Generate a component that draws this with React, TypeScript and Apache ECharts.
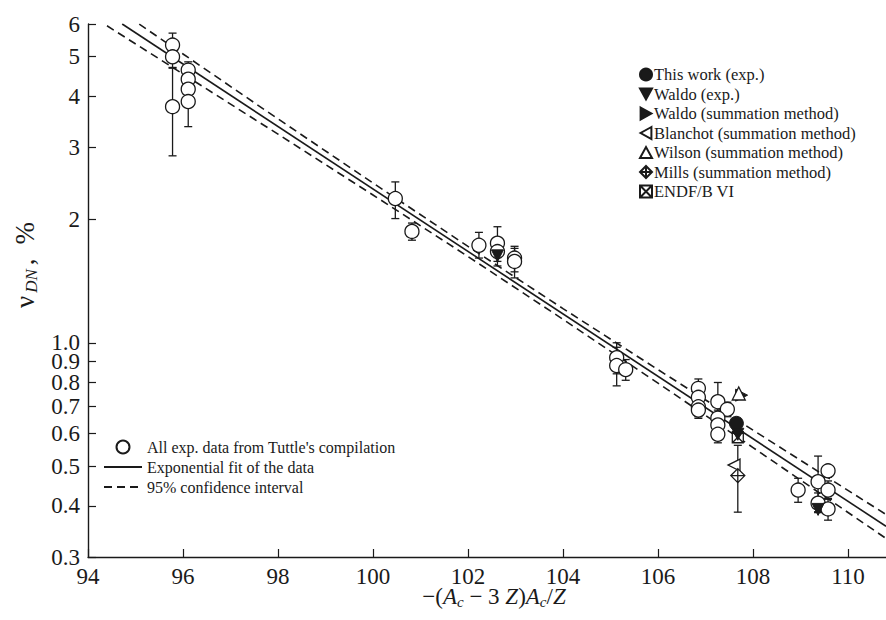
import { useEffect, useRef } from "react";
import * as echarts from "echarts";

const INK = "#1a1a1a";
const FONT = "'Liberation Serif', 'DejaVu Serif', serif";

const xTicks = [94, 96, 98, 100, 102, 104, 106, 108, 110];
const yTicks = [0.3, 0.4, 0.5, 0.6, 0.7, 0.8, 0.9, 1.0, 2, 3, 4, 5, 6];

// Tuttle's compilation: [x, value, errLow, errHigh]
const tuttle = [
  [95.78, 5.33, 4.96, 5.7],
  [95.78, 4.99, 4.7, 5.28],
  [95.78, 3.77, 2.86, 4.68],
  [96.11, 4.63, 4.41, 4.85],
  [96.11, 4.4, 4.2, 4.6],
  [96.11, 4.16, 3.95, 4.37],
  [96.11, 3.88, 3.37, 4.39],
  [100.47, 2.25, 2.01, 2.47],
  [100.82, 1.87, 1.78, 1.96],
  [102.23, 1.73, 1.61, 1.86],
  [102.62, 1.75, 1.58, 1.92],
  [102.62, 1.67, 1.54, 1.8],
  [102.98, 1.61, 1.49, 1.72],
  [102.98, 1.58, 1.44, 1.7],
  [105.13, 0.92, 0.84, 1.0],
  [105.13, 0.88, 0.785, 0.975],
  [105.32, 0.86, 0.81, 0.91],
  [106.85, 0.774, 0.74, 0.816],
  [106.85, 0.736, 0.7, 0.77],
  [106.85, 0.698, 0.66, 0.74],
  [106.85, 0.685, 0.654, 0.716],
  [107.26, 0.718, 0.64, 0.8],
  [107.46, 0.688, 0.66, 0.716],
  [107.26, 0.655, 0.625, 0.685],
  [107.26, 0.63, 0.6, 0.66],
  [107.26, 0.598, 0.57, 0.625],
  [108.95, 0.437, 0.408, 0.467],
  [109.37, 0.458, 0.387, 0.529],
  [109.37, 0.406, 0.385, 0.43],
  [109.58, 0.487, 0.47, 0.5],
  [109.58, 0.437, 0.415, 0.46],
  [109.58, 0.393, 0.369, 0.417],
];

const thisWork = [[107.65, 0.636]];
const waldoExp = [[107.68, 0.598], [102.62, 1.63], [109.37, 0.392]];
const waldoSum = [[107.76, 0.745]];
const blanchot = [[107.6, 0.503]];
const wilson = [[107.7, 0.752]];
const mills = [[107.68, 0.474]];
const millsErr = [[107.68, 0.386, 0.562]];
const endf = [[107.68, 0.588]];

const fitLine = [[94.72, 6.0], [110.8, 0.3565]];
const bandX = [94.4, 96, 98, 100, 102, 104, 106, 108, 110.8];
const bandUpper = [6.78, 5.07, 3.52, 2.455, 1.719, 1.212, 0.86, 0.612, 0.381];
const bandLower = [5.94, 4.53, 3.23, 2.295, 1.624, 1.141, 0.797, 0.555, 0.333];

const NAME_TUTTLE = "All exp. data from Tuttle's compilation";
const NAME_FIT = "Exponential fit of the data";
const NAME_CI = "95% confidence interval";
const NAME_THIS = "This work (exp.)";
const NAME_WEXP = "Waldo (exp.)";
const NAME_WSUM = "Waldo (summation method)";
const NAME_BL = "Blanchot (summation method)";
const NAME_WI = "Wilson (summation method)";
const NAME_MI = "Mills (summation method)";
const NAME_EN = "ENDF/B VI";

const MILLS_SYM = "path://M0,-10L10,0L0,10L-10,0Z M0,-10L0,10 M-10,0L10,0";
const ENDF_SYM = "path://M-10,-10L10,-10L10,10L-10,10Z M-10,-10L10,10 M10,-10L-10,10";
const DOWN_SYM = "path://M-10,-9L10,-9L0,9Z";
const RIGHT_SYM = "path://M-9,-10L9,0L-9,10Z";
const LEFT_SYM = "path://M9,-10L-9,0L9,10Z";
const UP_SYM = "path://M-10,9L10,9L0,-9Z";

export default function App() {
  const ref = useRef<HTMLDivElement>(null);
  useEffect(() => {
    if (!ref.current) return;
    const chart = echarts.init(ref.current, undefined, { renderer: "svg" });
    const errData = [
      ...tuttle.map((r) => [r[0], r[2], r[3]]),
      ...millsErr,
    ];
    const openStyle = { color: "#fff", borderColor: INK, borderWidth: 1.3, opacity: 1 };
    const filledStyle = { color: INK, borderColor: INK, borderWidth: 1, opacity: 1 };
    const hiddenSym = { color: "rgba(0,0,0,0)", borderColor: "rgba(0,0,0,0)", borderWidth: 0 };
    const option: any = {
      animation: false,
      backgroundColor: "#fff",
      grid: { left: 88, right: 0, top: 24, bottom: 63, outerBoundsMode: "none" },
      xAxis: {
        type: "value",
        min: 94,
        max: 110.8,
        interval: 2,
        axisLine: { lineStyle: { color: INK, width: 1.4 } },
        axisTick: { inside: true, length: 8, customValues: xTicks, lineStyle: { color: INK, width: 1.2 } },
        axisLabel: {
          customValues: xTicks,
          fontFamily: FONT,
          fontSize: 23,
          color: INK,
          margin: 8,
        },
        splitLine: { show: false },
      },
      yAxis: {
        type: "log",
        logBase: 10,
        min: 0.3,
        max: 6,
        axisLine: { show: true, lineStyle: { color: INK, width: 1.4 } },
        axisTick: { show: true, inside: true, length: 8, customValues: yTicks, lineStyle: { color: INK, width: 1.2 } },
        axisLabel: {
          customValues: yTicks,
          fontFamily: FONT,
          fontSize: 23,
          lineHeight: 17,
          color: INK,
          margin: 8,
          formatter: (v: number) => (v <= 1.0001 ? Number(v).toFixed(1) : String(Math.round(v))),
        },
        splitLine: { show: false },
        minorTick: { show: false },
      },
      legend: [
        {
          orient: "vertical",
          left: 634,
          top: 61,
          itemWidth: 12,
          itemHeight: 12,
          itemGap: 2.5,
          textStyle: { fontFamily: FONT, fontSize: 16.5, color: INK, padding: [0, 0, 0, -3] },
          data: [NAME_THIS, NAME_WEXP, NAME_WSUM, NAME_BL, NAME_WI, NAME_MI, NAME_EN],
          selectedMode: false,
        },
        {
          orient: "vertical",
          left: 98,
          top: 434,
          itemWidth: 38,
          itemHeight: 13,
          itemGap: 4,
          textStyle: { fontFamily: FONT, fontSize: 16, color: INK, padding: [0, 0, 0, 0] },
          data: [
            NAME_TUTTLE,
            { name: NAME_FIT, itemStyle: hiddenSym },
            { name: NAME_CI, itemStyle: hiddenSym },
          ],
          selectedMode: false,
        },
      ],
      graphic: [
        {
          type: "text",
          x: 494,
          y: 596,
          style: {
            text: "{n|−(}{i|A}{s|c}{n| − 3 }{i|Z}{n|)}{i|A}{s|c}{n|/}{i|Z}",
            align: "center",
            verticalAlign: "middle",
            rich: {
              n: { fontFamily: FONT, fontSize: 23, lineHeight: 26, fill: INK },
              i: { fontFamily: FONT, fontSize: 23, fontStyle: "italic", lineHeight: 26, fill: INK },
              s: { fontFamily: FONT, fontSize: 15, fontStyle: "italic", lineHeight: 12, verticalAlign: "bottom", fill: INK },
            },
          },
        },
        {
          type: "text",
          x: 25,
          y: 265,
          rotation: Math.PI / 2,
          style: {
            text: "{n|ν}{s|DN}{c|,}{p|%}",
            align: "center",
            verticalAlign: "middle",
            rich: {
              n: { fontFamily: FONT, fontSize: 27, lineHeight: 30, fill: INK },
              s: { fontFamily: FONT, fontSize: 17, fontStyle: "italic", lineHeight: 16, verticalAlign: "bottom", fill: INK, padding: [0, 0, 0, 3] },
              c: { fontFamily: FONT, fontSize: 27, lineHeight: 30, fill: INK, padding: [0, 0, 0, 4] },
              p: { fontFamily: FONT, fontSize: 27, lineHeight: 30, fill: INK, padding: [0, 0, 0, 14] },
            },
          },
        },
      ],
      series: [
        {
          name: NAME_FIT,
          type: "line",
          data: fitLine,
          symbol: "none",
          showSymbol: false,
          lineStyle: { color: INK, width: 1.6 },
          itemStyle: { color: INK },
          z: 1,
        },
        {
          name: NAME_CI,
          type: "line",
          data: bandX.map((x, i) => [x, bandUpper[i]]),
          symbol: "none",
          showSymbol: false,
          lineStyle: { color: INK, width: 1.6, type: [8, 5] },
          itemStyle: { color: INK },
          z: 1,
        },
        {
          name: NAME_CI,
          type: "line",
          data: bandX.map((x, i) => [x, bandLower[i]]),
          symbol: "none",
          showSymbol: false,
          lineStyle: { color: INK, width: 1.6, type: [8, 5] },
          itemStyle: { color: INK },
          z: 1,
        },
        {
          name: "errors",
          type: "custom",
          data: errData,
          encode: { x: 0, y: [1, 2] },
          z: 2,
          renderItem: (_p: any, api: any) => {
            const x = api.value(0);
            const a = api.coord([x, api.value(1)]);
            const b = api.coord([x, api.value(2)]);
            const hw = 4;
            const st = { stroke: INK, lineWidth: 1.3 };
            return {
              type: "group",
              children: [
                { type: "line", shape: { x1: a[0], y1: a[1], x2: b[0], y2: b[1] }, style: st },
                { type: "line", shape: { x1: a[0] - hw, y1: a[1], x2: a[0] + hw, y2: a[1] }, style: st },
                { type: "line", shape: { x1: b[0] - hw, y1: b[1], x2: b[0] + hw, y2: b[1] }, style: st },
              ],
            };
          },
        },
        {
          name: NAME_TUTTLE,
          type: "scatter",
          data: tuttle.map((r) => [r[0], r[1]]),
          symbol: "circle",
          symbolSize: 14,
          itemStyle: openStyle,
          z: 3,
        },
        {
          name: NAME_EN,
          type: "scatter",
          data: endf,
          symbol: ENDF_SYM,
          symbolSize: 11,
          itemStyle: openStyle,
          z: 4,
        },
        {
          name: NAME_THIS,
          type: "scatter",
          data: thisWork,
          symbol: "circle",
          symbolSize: 14,
          itemStyle: filledStyle,
          z: 5,
        },
        {
          name: NAME_WEXP,
          type: "scatter",
          data: waldoExp,
          symbol: DOWN_SYM,
          symbolSize: 12,
          itemStyle: filledStyle,
          z: 5,
        },
        {
          name: NAME_WSUM,
          type: "scatter",
          data: waldoSum,
          symbol: RIGHT_SYM,
          symbolSize: 12,
          itemStyle: filledStyle,
          z: 4,
        },
        {
          name: NAME_BL,
          type: "scatter",
          data: blanchot,
          symbol: LEFT_SYM,
          symbolSize: 12,
          itemStyle: openStyle,
          z: 5,
        },
        {
          name: NAME_WI,
          type: "scatter",
          data: wilson,
          symbol: UP_SYM,
          symbolSize: 13,
          itemStyle: openStyle,
          z: 5,
        },
        {
          name: NAME_MI,
          type: "scatter",
          data: mills,
          symbol: MILLS_SYM,
          symbolSize: 14,
          itemStyle: openStyle,
          z: 5,
        },
      ],
    };
    chart.setOption(option);
    return () => chart.dispose();
  }, []);
  return (
    <div
      ref={ref}
      style={{ position: "fixed", left: 0, top: 0, width: 886, height: 620, background: "#fff" }}
    />
  );
}
